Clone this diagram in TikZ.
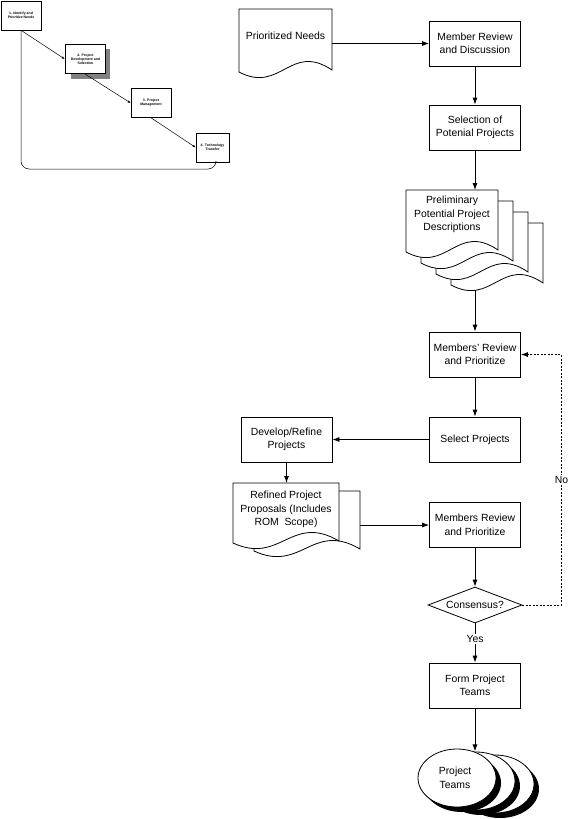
\documentclass[tikz,border=0pt]{standalone}
\usepackage{fontspec}
\setmainfont{Liberation Sans}
\usetikzlibrary{arrows.meta,shapes.geometric}
% page with wavy bottom: x, y, width, height
\newcommand{\docpage}[4]{%
  \filldraw[fill=white] (#1,#2) -- ++(#3,0) -- ++(0,#4-2)
    .. controls ({#1+0.55*#3},{#2+#4-30}) and ({#1+0.45*#3},{#2+#4+22}) .. (#1,{#2+#4}) -- cycle;}

\begin{document}
\begin{tikzpicture}[x=1pt,y=-1pt,>={Latex[length=7pt,width=5pt]},line width=0.8pt,
    font=\fontsize{10.4}{13.5}\selectfont,
    box/.style={draw,rectangle,minimum width=91pt,minimum height=45pt,inner sep=0pt,align=center,fill=white},
    mini/.style={draw,rectangle,minimum width=40pt,minimum height=29pt,inner sep=0pt,align=center,
      fill=white,line width=0.6pt,font=\fontsize{3.5}{4.2}\selectfont\bfseries},
    doctext/.style={anchor=north,inner sep=0pt,align=center}]
    \useasboundingbox (0,0) rectangle (585,819);

    % small overview
    \fill[gray] (71,49) rectangle (110,79);
    \node[mini] (b1) at (21,15.5) {1. Identify and\\Prioritize Needs};
    \node[mini,line width=1.6pt] (b2) at (85.5,59) {2. Project\\Development and\\Selection};
    \node[mini] (b3) at (151,103) {3. Project\\Management};
    \node[mini,minimum width=33pt] (b4) at (212.5,147.5) {4. Technology\\Transfer};
    \begin{scope}[line width=0.5pt,>={Latex[length=3pt,width=2.5pt]}]
        \draw[->] (b1.south) -- (b2.west);
        \draw[->] (b2.south) -- (b3.west);
        \draw[->] (b3.south) -- (b4.west);
        \draw[rounded corners=8pt] ([xshift=3.5pt]b4.south) |- (b1.south |- 0,169) -- (b1.south);
    \end{scope}

    % documents
    \docpage{239}{9}{93}{63}
    \node[doctext,minimum width=93pt,minimum height=52pt] (needs) at (285.5,9) {Prioritized Needs};
    \foreach \i in {3,2,1,0} {\docpage{406+15*\i}{190+11*\i}{92}{62}}
    \node[doctext,minimum width=92pt,minimum height=48pt] (prelim) at (452,190) {Preliminary\\Potential Project\\Descriptions};
    \coordinate (prelimB) at (475,290);
    \docpage{254}{491}{106}{60}
    \docpage{233}{483}{106}{60}
    \node[doctext,minimum width=106pt,minimum height=52pt] (refined) at (286,483) {Refined Project\\Proposals (Includes\\ROM\ \ Scope)};
    \coordinate (refinedR) at (360,525);

    % boxes
    \node[box] (member) at (475,43.5) {Member Review\\and Discussion};
    \node[box] (selection) at (475,127.5) {Selection of\\Potenial Projects};
    \node[box] (review1) at (475,354.5) {Members' Review\\and Prioritize};
    \node[box] (select) at (475,439.5) {Select Projects};
    \node[box] (develop) at (286.5,439.5) {Develop/Refine\\Projects};
    \node[box] (review2) at (475,525) {Members Review\\and Prioritize};
    \node[draw,diamond,aspect=2.6,minimum width=94pt,minimum height=36pt,inner sep=0pt] (consensus) at (475,605) {Consensus?};
    \node[box] (form) at (475,685.5) {Form Project\\Teams};

    % teams
    \foreach \dx/\dy in {38/6,19/3,0/0} {
        \fill (462+\dx,783+\dy) ellipse [x radius=39,y radius=29];
        \filldraw[fill=white] (457+\dx,778+\dy) ellipse [x radius=39,y radius=29];
    }
    \node[ellipse,align=center,minimum width=78pt,minimum height=58pt,inner sep=0pt] (teams) at (455,778) {Project\\Teams};

    % connectors
    \draw[->] (needs.east |- member) -- (member.west);
    \draw[->] (member) -- (selection);
    \draw[->] (selection.south) -- (selection.south |- prelim.north);
    \draw[->] (prelimB) -- (review1.north);
    \draw[->] (review1) -- (select);
    \draw[->] (select) -- (develop);
    \draw[->] (develop.south) -- (develop.south |- refined.north);
    \draw[->] (refinedR) -- (review2.west);
    \draw[->] (review2) -- (consensus);
    \draw[->] (consensus.south) -- (form.north) node[pos=0.4,fill=white,inner sep=1pt]{Yes};
    \draw[->] (form.south) -- ++(0,43);
    \draw[->,dash pattern=on 2pt off 1.5pt] (consensus.east) -- ++(39,0) |- (review1.east)
        node[pos=0.25,fill=white,inner sep=1pt]{No};
\end{tikzpicture}
\end{document}
